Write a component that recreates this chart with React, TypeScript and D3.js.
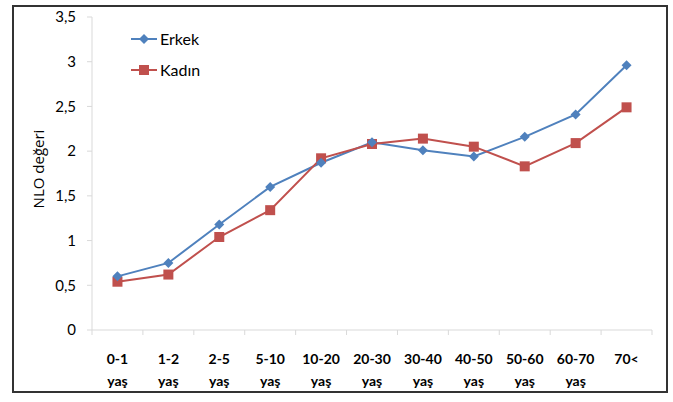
import React from "react";
import * as d3 from "d3";

const categories = ["0-1 yaş", "1-2 yaş", "2-5 yaş", "5-10 yaş", "10-20 yaş", "20-30 yaş", "30-40 yaş", "40-50 yaş", "50-60 yaş", "60-70 yaş", "70<"];
const erkek = [0.6, 0.75, 1.18, 1.6, 1.87, 2.1, 2.01, 1.94, 2.16, 2.41, 2.96];
const kadin = [0.54, 0.62, 1.04, 1.34, 1.92, 2.08, 2.14, 2.05, 1.83, 2.09, 2.49];
const yTicks = [0, 0.5, 1, 1.5, 2, 2.5, 3, 3.5];
const seriesNames = ["Erkek", "Kadın"];

const W = 673, H = 402;
const left = 92, right = 652, top = 17, bottom = 330;
const BLUE = "#4F81BD", RED = "#C0504D";
const FONT = "Lato, 'Open Sans', sans-serif";

export default function App() {
  const x = d3.scaleBand<string>().domain(categories).range([left, right]).paddingInner(0).paddingOuter(0);
  const y = d3.scaleLinear().domain([0, 3.5]).range([bottom, top]);
  const cx = (c: string) => (x(c) as number) + x.bandwidth() / 2;
  const line = d3.line<number>().x((_, i) => cx(categories[i])).y(d => y(d));
  const fmt = (v: number) => String(v).replace(".", ",");
  const boundaries = categories.map(c => x(c) as number).concat([right]);

  const diamond = (px: number, py: number, key: string | number) => (
    <path key={key} d={`M${px},${py - 5}L${px + 5},${py}L${px},${py + 5}L${px - 5},${py}Z`} fill={BLUE} />
  );
  const square = (px: number, py: number, key: string | number) => (
    <rect key={key} x={px - 5} y={py - 5} width={10} height={10} fill={RED} />
  );

  return (
    <svg width={W} height={H} style={{ position: "absolute", left: 0, top: 0, background: "#fff" }} fontFamily={FONT}>
      <rect x={13} y={6} width={654} height={386} fill="#fff" stroke="#333" strokeWidth={2} />
      {/* axes */}
      <line x1={left} x2={left} y1={top} y2={bottom} stroke="#d9d9d9" />
      <line x1={left} x2={right} y1={bottom} y2={bottom} stroke="#d9d9d9" />
      {yTicks.map(t => (
        <g key={t}>
          <line x1={left - 5} x2={left} y1={y(t)} y2={y(t)} stroke="#d9d9d9" />
          <text x={76} y={y(t)} dy="0.35em" textAnchor="end" fontSize={15} fill="#000">{fmt(t)}</text>
        </g>
      ))}
      {boundaries.map((b, i) => (
        <line key={i} x1={b} x2={b} y1={bottom} y2={bottom + 5} stroke="#d9d9d9" />
      ))}
      {categories.map(c => {
        const parts = c.split(" ");
        return (
          <text key={c} x={cx(c)} textAnchor="middle" fontSize={14} fontWeight="bold" fill="#000">
            {parts.map((p, i) => (
              <tspan key={i} x={cx(c)} y={364 + i * 22}>{p}</tspan>
            ))}
          </text>
        );
      })}
      <text transform={`translate(44,169) rotate(-90)`} textAnchor="middle" fontSize={15} fontFamily="'Open Sans', sans-serif" fill="#000">NLO değeri</text>
      {/* lines */}
      <path d={line(erkek) || ""} fill="none" stroke={BLUE} strokeWidth={2} />
      <path d={line(kadin) || ""} fill="none" stroke={RED} strokeWidth={2} />
      {kadin.map((v, i) => square(cx(categories[i]), y(v), "k" + i))}
      {erkek.map((v, i) => diamond(cx(categories[i]), y(v), "e" + i))}
      {/* legend */}
      <line x1={131} x2={157} y1={39} y2={39} stroke={BLUE} strokeWidth={2} />
      {diamond(144, 39, "le")}
      <text x={160} y={39} dy="0.35em" fontSize={16} fill="#000">{seriesNames[0]}</text>
      <line x1={131} x2={157} y1={70} y2={70} stroke={RED} strokeWidth={2} />
      {square(144, 70, "lk")}
      <text x={160} y={70} dy="0.35em" fontSize={16} fill="#000">{seriesNames[1]}</text>
    </svg>
  );
}
